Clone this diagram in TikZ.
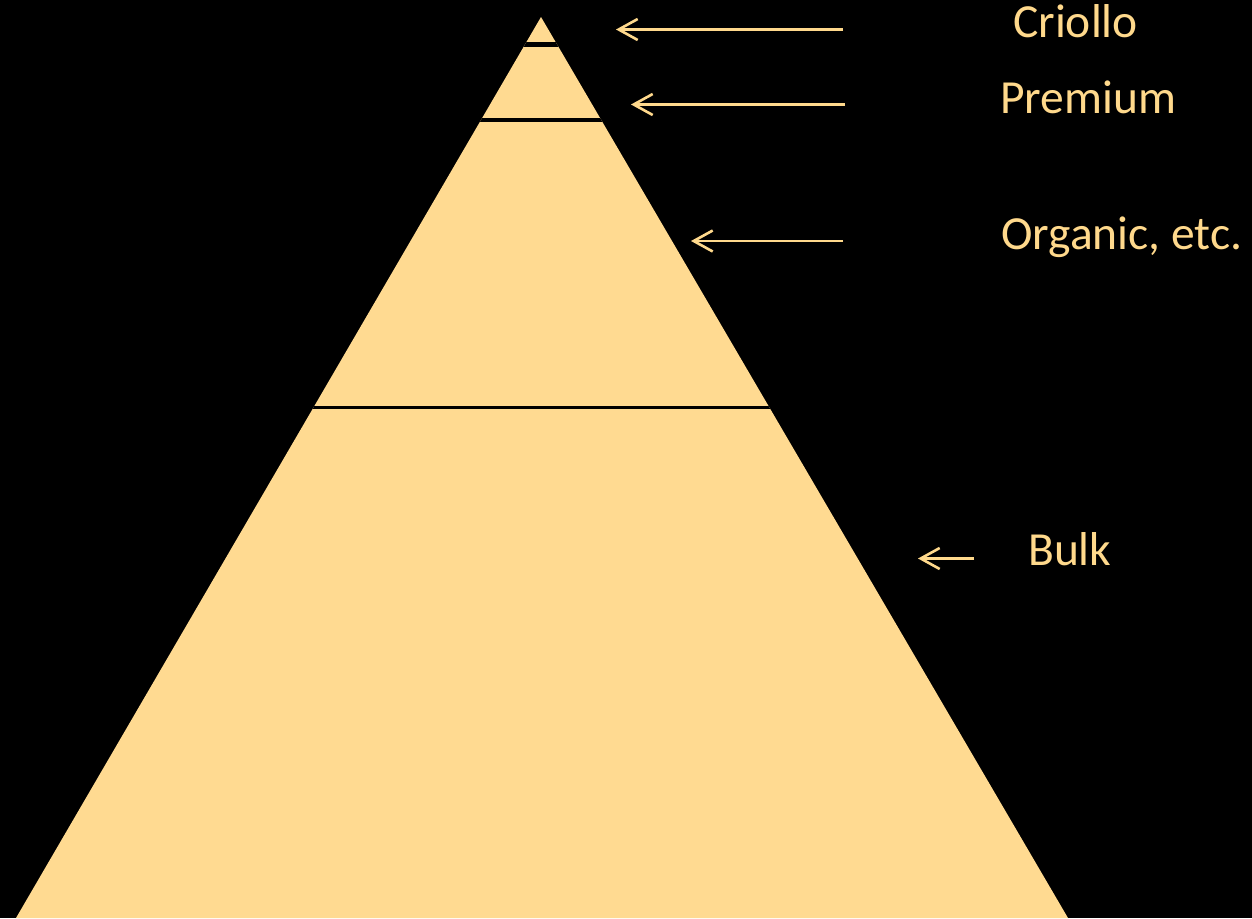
\documentclass[tikz,border=0pt]{standalone}
\usepackage{fontspec}
\setmainfont{Carlito}
\usetikzlibrary{arrows.meta}
\definecolor{pyr}{HTML}{FFDA91}
\definecolor{lab}{HTML}{FFD98C}
\tikzset{
  lbl/.style={anchor=base west, inner sep=0pt, text=lab, font=\fontsize{47.5}{57}\selectfont},
  pointer/.style={draw=lab, line width=2.6pt, -{Straight Barb[length=19pt,width=21pt]}},
  sep/.style={draw=black}
}
\begin{document}
\begin{tikzpicture}[x=1pt,y=-1pt]
\fill[black] (0,0) rectangle (1252,918);
\useasboundingbox (0,0) rectangle (1252,918);
% pyramid
\coordinate (apex) at (541,17);
\coordinate (bl) at (16,918);
\coordinate (br) at (1068,918);
\fill[pyr] (apex) -- (bl) -- (br) -- cycle;
\begin{scope}
\clip (apex) -- (bl) -- (br) -- cycle;
\coordinate (s1l) at (0,44.5); \coordinate (s1r) at (1252,44.5);
\coordinate (s2l) at (0,119.8); \coordinate (s2r) at (1252,119.8);
\coordinate (s3l) at (0,407.6); \coordinate (s3r) at (1252,407.6);
\draw[sep, line width=5pt] (s1l) -- (s1r);
\draw[sep, line width=4pt] (s2l) -- (s2r);
\draw[sep, line width=3.6pt] (s3l) -- (s3r);
\end{scope}
% labels
\node[lbl] (criollo) at (1013,37.5) {Criollo};
\node[lbl] (premium) at (1000,113) {Premium};
\node[lbl] (organic) at (1001,249.5) {Organic, etc.};
\node[lbl] (bulk) at (1028,565.5) {Bulk};
% arrows
\coordinate (a1s) at (843,29.5); \coordinate (a1e) at (616,29.5);
\coordinate (a2s) at (845,104.5); \coordinate (a2e) at (631,104.5);
\coordinate (a3s) at (843,241); \coordinate (a3e) at (691,241);
\coordinate (a4s) at (974,558.5); \coordinate (a4e) at (918,558.5);
\draw[pointer] (a1s) -- (a1e);
\draw[pointer] (a2s) -- (a2e);
\draw[pointer] (a3s) -- (a3e);
\draw[pointer] (a4s) -- (a4e);
\end{tikzpicture}
\end{document}
